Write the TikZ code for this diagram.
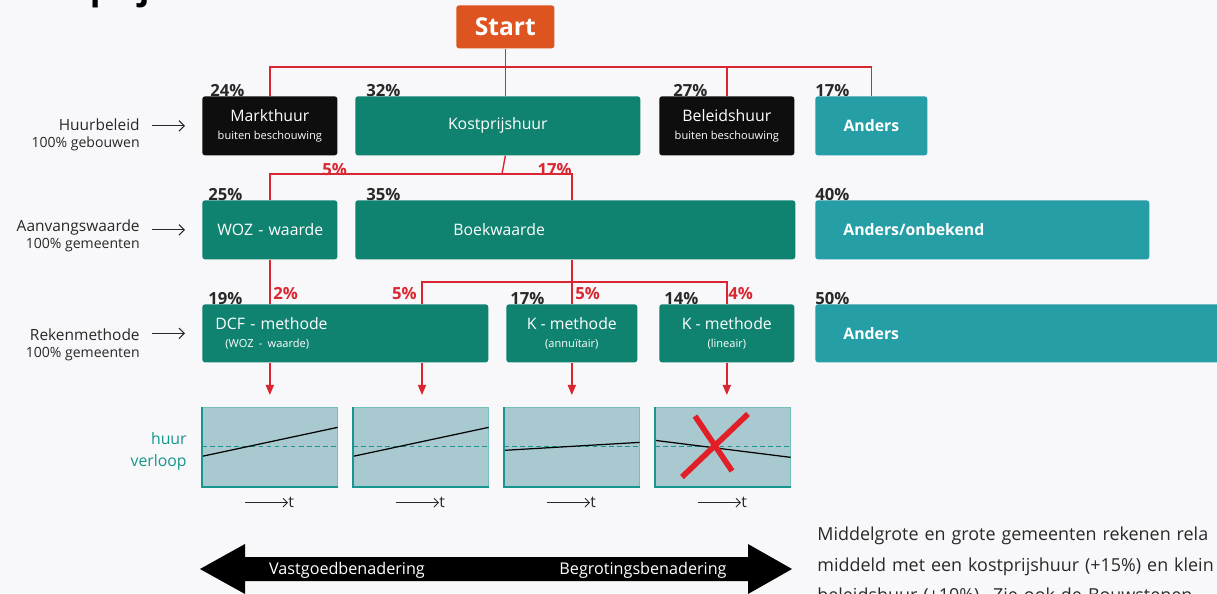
\documentclass[tikz,border=0pt]{standalone}
\usepackage{fontspec}
\setmainfont{Open Sans}
\usetikzlibrary{arrows.meta,positioning,calc}

\definecolor{startred}{RGB}{222,84,32}
\definecolor{boxgreen}{RGB}{16,131,112}
\definecolor{boxteal}{RGB}{38,158,166}
\definecolor{boxblack}{RGB}{14,14,14}
\definecolor{linered}{RGB}{218,38,48}
\definecolor{crossred}{RGB}{226,30,38}
\definecolor{chartfill}{RGB}{168,201,208}
\definecolor{chartline}{RGB}{22,150,140}
\definecolor{paper}{RGB}{248,248,250}
\definecolor{inkgrey}{RGB}{40,40,40}

\newcommand{\subtxt}[1]{{\fontsize{6.3}{8}\selectfont #1}}
\newcommand{\subside}[1]{{\fontsize{8}{10}\selectfont #1}}

\begin{document}
\begin{tikzpicture}[x=0.02cm,y=-0.02cm,
  box/.style={rounded corners=1.5pt, inner sep=0pt, text=white, minimum height=1.18cm,
    font=\fontsize{9}{11}\selectfont, align=center, anchor=north west},
  greenbox/.style={box, fill=boxgreen},
  blackbox/.style={box, fill=boxblack},
  tealbox/.style={box, fill=boxteal, font=\fontsize{9}{11}\selectfont\bfseries},
  pct/.style={inner sep=0pt, text=inkgrey, font=\fontsize{9.5}{11}\selectfont\bfseries},
  redpct/.style={pct, text=linered},
  redline/.style={draw=linered, line width=0.8pt},
  redarrow/.style={redline, -{Triangle[length=5.7pt,width=4.6pt]}, shorten >=0.24cm},
  sidelbl/.style={inner sep=0pt, align=right, anchor=east, text=inkgrey, font=\fontsize{8.8}{9.6}\selectfont},
  sidearrow/.style={draw=inkgrey, line width=0.6pt, -{Straight Barb[length=3pt,width=6pt]},
    shorten <=0.24cm, shorten >=0.34cm},
  chart/.style={draw=chartline!60, line width=0.4pt, fill=chartfill, minimum width=2.7cm,
    minimum height=1.58cm, inner sep=0pt, anchor=north west},
  axis/.style={draw=chartline, line width=1.2pt},
  dashline/.style={draw=chartline, line width=0.7pt, dash pattern=on 2.6pt off 2pt},
  rentline/.style={draw=black, line width=0.7pt},
  tlbl/.style={inner sep=0pt, anchor=west, text=inkgrey, font=\fontsize{9}{11}\selectfont},
  tarrow/.style={draw=inkgrey, line width=0.5pt, -{Straight Barb[length=2.5pt,width=5pt]}},
  arrowtxt/.style={inner sep=0pt, text=white, font=\fontsize{9.2}{11}\selectfont}]

\useasboundingbox (0,0) rectangle (1217,593);
\clip (0,0) rectangle (1217,593);
\fill[paper] (0,0) rectangle (1217,593);

% titel, half buiten beeld
\node[inner sep=0pt, anchor=base west, font=\fontsize{20}{24}\selectfont\bfseries] (titel) at (14,-1) {kostprijs};

\node[box, fill=startred, minimum width=1.96cm, minimum height=0.86cm, font=\fontsize{14}{16}\selectfont\bfseries] (start) at (456,5) {Start};

% huurbeleid
\node[blackbox, minimum width=2.7cm] (markt) at (202,96) {Markthuur\\[-0.3pt]\subtxt{buiten beschouwing}};
\node[greenbox, minimum width=5.7cm] (kost) at (355,96) {Kostprijshuur};
\node[blackbox, minimum width=2.7cm] (beleid) at (659,96) {Beleidshuur\\[-0.3pt]\subtxt{buiten beschouwing}};
\node[tealbox, minimum width=2.24cm] (and1) at (815,96) {Anders};

% aanvangswaarde
\node[greenbox, inner xsep=0.3cm, text width=2.1cm, align=left] (woz) at (202,200) {\mbox{WOZ - waarde}};
\node[greenbox, inner xsep=1.96cm, text width=4.88cm, align=left] (boek) at (355,200) {Boekwaarde};
\node[tealbox, inner xsep=0.56cm, text width=5.56cm, align=left] (and2) at (815,200) {Anders/onbekend};

% rekenmethode
\node[greenbox, minimum height=1.16cm, inner xsep=0.26cm, text width=5.2cm, align=left] (dcf) at (202,304) {DCF - methode\\[-0.8pt]\hspace*{0.2cm}\subtxt{(WOZ - waarde)}};
\node[greenbox, minimum height=1.16cm, minimum width=2.62cm] (kann) at (506,304) {K - methode\\[-0.8pt]\subtxt{(annuïtair)}};
\node[greenbox, minimum height=1.16cm, minimum width=2.7cm] (klin) at (659,304) {K - methode\\[-0.8pt]\subtxt{(lineair)}};
\node[tealbox, minimum height=1.16cm, inner xsep=0.56cm, text width=7.28cm, align=left] (and3) at (815,304) {Anders};

% percentages
\node[pct, above right=-0.02cm and 0.16cm of markt.north west] (p24) {24\%};
\node[pct, above right=-0.02cm and 0.22cm of kost.north west] (p32) {32\%};
\node[pct, above right=-0.02cm and 0.28cm of beleid.north west] (p27) {27\%};
\node[pct, above right=-0.02cm and 0cm of and1.north west] (p17a) {17\%};
\node[pct, above right=-0.02cm and 0.12cm of woz.north west] (p25) {25\%};
\node[pct, above right=-0.02cm and 0.22cm of boek.north west] (p35) {35\%};
\node[pct, above right=-0.02cm and 0cm of and2.north west] (p40) {40\%};
\node[pct, above right=-0.02cm and 0.12cm of dcf.north west] (p19) {19\%};
\node[pct, above right=-0.02cm and 0.08cm of kann.north west] (p17b) {17\%};
\node[pct, above right=-0.02cm and 0.1cm of klin.north west] (p14) {14\%};
\node[pct, above right=-0.02cm and 0cm of and3.north west] (p50) {50\%};

% rode lijnen
\coordinate (bar1) at (502,67);
\draw[redline] (markt.north) |- (bar1) -| (and1.north);
\draw[redline] (start.south) -- (start.south |- kost.north);
\draw[redline] (beleid.north) -- (beleid.north |- bar1);

\coordinate (bar2) at (502,174);
\draw[redline] (start.south |- kost.south) -- (bar2);
\draw[redline] (woz.north) |- (bar2) -| (kann.north |- boek.north);

\coordinate (bar3) at (572,282);
\draw[redline] (woz.south) -- (woz.south |- dcf.north);
\draw[redline] (kann.north |- boek.south) -- (kann.north);
\draw[redline] (dcf.north -| 422,0) |- (bar3) -| (klin.north);

\node[redpct, anchor=base west] (r5a) at (322,175) {5\%};
\node[redpct, anchor=base east] (r17) at (572,175) {17\%};
\node[redpct, anchor=base west] (r2) at (273,299) {2\%};
\node[redpct, anchor=base east] (r5b) at (417,299) {5\%};
\node[redpct, anchor=base west] (r5c) at (575,299) {5\%};
\node[redpct, anchor=base west] (r4) at (728,299) {4\%};

% linker labels
\node[sidelbl] (huur) at (140,135) {Huurbeleid\\\subside{100\% gebouwen}};
\node[sidelbl] (aanv) at (140,236) {Aanvangswaarde\\\subside{100\% gemeenten}};
\node[sidelbl] (reken) at (140,345) {Rekenmethode\\\subside{100\% gemeenten}};
\draw[sidearrow] (huur.east |- markt.west) -- (markt.west);
\draw[sidearrow] (aanv.east |- woz.west) -- (woz.west);
\draw[sidearrow] (reken.east |- dcf.west) -- (dcf.west);

% huurverloop
\node[chart] (ch1) at (202,407) {};
\node[chart] (ch2) at (353,407) {};
\node[chart] (ch3) at (504,407) {};
\node[chart] (ch4) at (655,407) {};
\foreach \c/\a/\b in {ch1/9.5/-19.5, ch2/9.5/-19.5, ch3/3.5/-4.5, ch4/-6.5/10.5}{
  \draw[dashline] (\c.west) -- (\c.east);
  \draw[rentline] ($(\c.west)+(0,\a)$) -- ($(\c.east)+(0,\b)$);
  \draw[axis] (\c.north west) -- (\c.south west) -- (\c.south east);
  \node[tlbl] (t\c) at ($(\c.south west)+(86,16)$) {t};
  \draw[tarrow] ($(t\c.west)+(-43,0)$) -- (t\c.west);
}
\draw[crossred, line width=3.2pt] (682,477) -- (748,414) (695,416) -- (732,471);

\node[inner sep=0pt, anchor=east, align=right, text=chartline, font=\fontsize{9}{12.5}\selectfont] (hv) at (187,451) {huur\\verloop};

\draw[redarrow] (dcf.south -| woz.south) -- (woz.south |- ch1.north);
\draw[redarrow] (dcf.south -| 422,0) -- (ch2.north -| 422,0);
\draw[redarrow] (kann.south) -- (kann.south |- ch3.north);
\draw[redarrow] (klin.south) -- (klin.south |- ch4.north);

% benadering
\fill[black] (200,569) -- (245,544) -- (245,557) -- (748,557) -- (748,544) -- (792,569)
  -- (748,594) -- (748,581) -- (245,581) -- (245,594) -- cycle;
\node[arrowtxt] (vast) at (347,570) {Vastgoedbenadering};
\node[arrowtxt] (begr) at (643,570) {Begrotingsbenadering};

\node[inner sep=0pt, anchor=north west, align=left, text width=10cm, text=inkgrey,
  font=\fontsize{10.2}{17.1}\selectfont] (tekst) at (817,527)
  {Middelgrote en grote gemeenten rekenen rela\\
   middeld met een kostprijshuur (+15\%) en klein\\
   beleidshuur (+10\%). Zie ook de Bouwstenen};

\end{tikzpicture}
\end{document}
